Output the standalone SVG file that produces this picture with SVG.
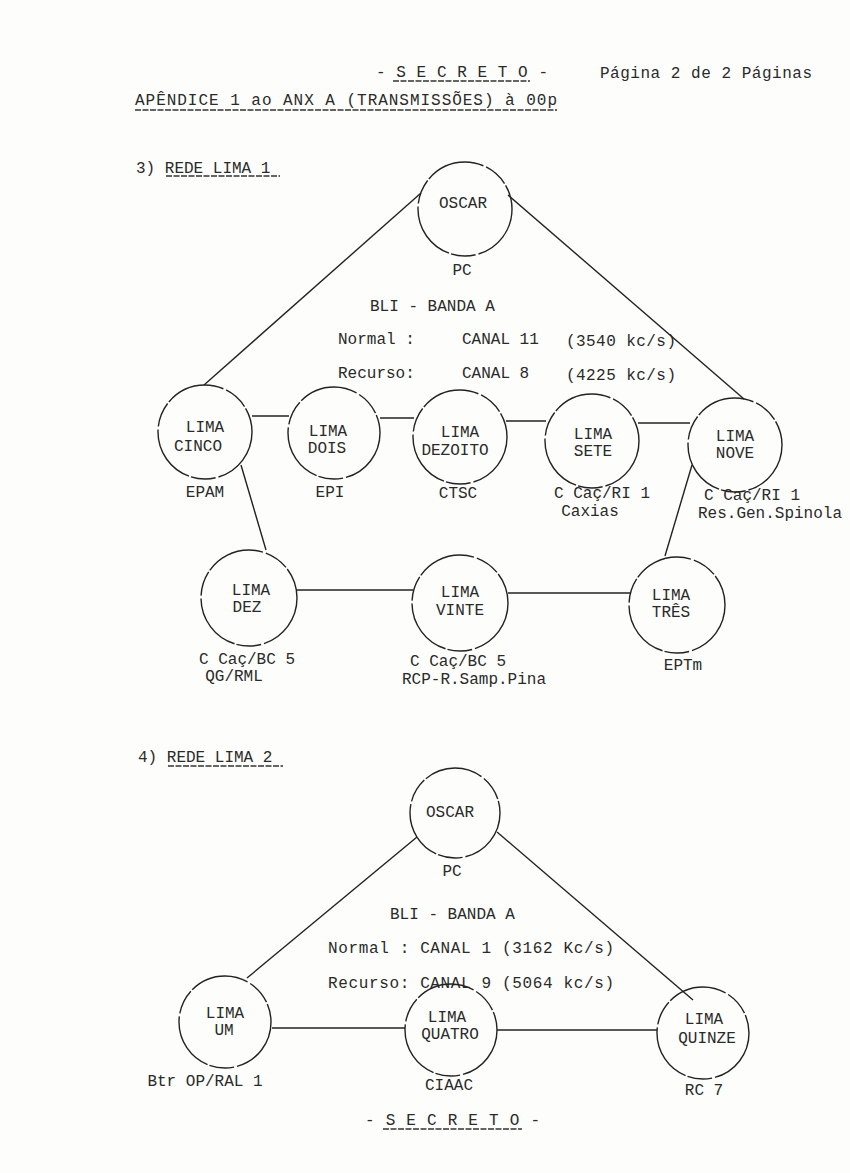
<svg xmlns="http://www.w3.org/2000/svg" width="850" height="1173" viewBox="0 0 850 1173">
<style>
text{font-family:"Liberation Mono","DejaVu Sans Mono",monospace;font-size:16px;fill:#2a2a2a}
.c{text-anchor:middle}
.n{fill:none;stroke:#222;stroke-width:1.4;stroke-dasharray:60 3 25 2}
.l{stroke:#222;stroke-width:1.4;fill:none}
.u{stroke:#333;stroke-width:1.3;stroke-dasharray:6 1.5}
</style>
<rect width="850" height="1173" fill="#fdfdfb"/>
<g id="header">
<text x="376" y="77" textLength="172">- S E C R E T O -</text>
<line class="u" x1="393" y1="81" x2="530" y2="81"/>
<text x="600" y="78" textLength="212">Página 2 de 2 Páginas</text>
<text x="135" y="105" textLength="422">APÊNDICE 1 ao ANX A (TRANSMISSÕES) à 00p</text>
<line class="u" x1="135" y1="110" x2="557" y2="110"/>
</g>
<g id="title1">
<text x="136" y="173">3) REDE LIMA 1</text>
<line class="u" x1="166" y1="176" x2="280" y2="176"/>
</g>
<g id="connectors1">
<line class="l" x1="421" y1="193" x2="204" y2="385"/>
<line class="l" x1="508" y1="195" x2="744" y2="399"/>
<line class="l" x1="252" y1="416" x2="289" y2="416"/>
<line class="l" x1="380" y1="418" x2="414" y2="418"/>
<line class="l" x1="506" y1="421" x2="546" y2="421"/>
<line class="l" x1="638" y1="423" x2="690" y2="423"/>
<line class="l" x1="241" y1="465" x2="266" y2="550"/>
<line class="l" x1="692" y1="465" x2="665" y2="556"/>
<line class="l" x1="297" y1="590" x2="413" y2="590"/>
<line class="l" x1="508" y1="593" x2="631" y2="593"/>
</g>
<g id="oscar1"><circle class="n" cx="465" cy="209" r="47"/><text class="c" x="463" y="208">OSCAR</text><text class="c" x="462" y="275">PC</text></g>
<g id="info1">
<text x="370" y="311">BLI - BANDA A</text>
<text x="338" y="344">Normal :</text><text x="462" y="344">CANAL 11</text><text x="566" y="346" textLength="110">(3540 kc/s)</text>
<text x="338" y="378">Recurso:</text><text x="462" y="378">CANAL  8</text><text x="566" y="380" textLength="110">(4225 kc/s)</text>
</g>
<g id="lima-cinco"><circle class="n" cx="205" cy="432" r="47"/><text class="c" x="205" y="432">LIMA</text><text class="c" x="198" y="451">CINCO</text><text class="c" x="205" y="497">EPAM</text></g>
<g id="lima-dois"><circle class="n" cx="334" cy="433" r="46"/><text class="c" x="328" y="436">LIMA</text><text class="c" x="327" y="453">DOIS</text><text class="c" x="330" y="497">EPI</text></g>
<g id="lima-dezoito"><circle class="n" cx="460" cy="437" r="47"/><text class="c" x="460" y="437">LIMA</text><text class="c" x="455" y="455">DEZOITO</text><text class="c" x="458" y="498">CTSC</text></g>
<g id="lima-sete"><circle class="n" cx="592" cy="441" r="47"/><text class="c" x="593" y="439">LIMA</text><text class="c" x="593" y="456">SETE</text><text class="c" x="602" y="498">C Caç/RI 1</text><text class="c" x="590" y="516">Caxias</text></g>
<g id="lima-nove"><circle class="n" cx="735" cy="445" r="47"/><text class="c" x="735" y="441">LIMA</text><text class="c" x="735" y="458">NOVE</text><text class="c" x="752" y="500">C Caç/RI 1</text><text class="c" x="770" y="518">Res.Gen.Spinola</text></g>
<g id="lima-dez"><circle class="n" cx="249" cy="598" r="48"/><text class="c" x="251" y="595">LIMA</text><text class="c" x="247" y="612">DEZ</text><text class="c" x="247" y="664">C Caç/BC 5</text><text class="c" x="234" y="681">QG/RML</text></g>
<g id="lima-vinte"><circle class="n" cx="460" cy="603" r="48"/><text class="c" x="460" y="597">LIMA</text><text class="c" x="460" y="615">VINTE</text><text class="c" x="458" y="666">C Caç/BC 5</text><text class="c" x="474" y="684">RCP-R.Samp.Pina</text></g>
<g id="lima-tres"><circle class="n" cx="677" cy="605" r="48"/><text class="c" x="671" y="600">LIMA</text><text class="c" x="671" y="617">TRÊS</text><text class="c" x="683" y="670">EPTm</text></g>
<g id="title2">
<text x="138" y="762">4) REDE LIMA 2</text>
<line class="u" x1="168" y1="766" x2="283" y2="766"/>
</g>
<g id="connectors2">
<line class="l" x1="417" y1="837" x2="247" y2="978"/>
<line class="l" x1="497" y1="832" x2="693" y2="1000"/>
<line class="l" x1="272" y1="1028" x2="405" y2="1028"/>
<line class="l" x1="497" y1="1030" x2="657" y2="1030"/>
</g>
<g id="oscar2"><circle class="n" cx="455" cy="813" r="45"/><text class="c" x="450" y="817">OSCAR</text><text class="c" x="452" y="876">PC</text></g>
<g id="info2">
<text x="390" y="919">BLI - BANDA A</text>
<text x="328" y="953" textLength="286">Normal : CANAL 1 (3162 Kc/s)</text>
<text x="328" y="988" textLength="286">Recurso: CANAL 9 (5064 kc/s)</text>
</g>
<g id="lima-um"><circle class="n" cx="225" cy="1022" r="46"/><text class="c" x="225" y="1018">LIMA</text><text class="c" x="224" y="1035">UM</text><text class="c" x="205" y="1086">Btr OP/RAL 1</text></g>
<g id="lima-quatro"><circle class="n" cx="451" cy="1030" r="46"/><text class="c" x="447" y="1022">LIMA</text><text class="c" x="450" y="1039">QUATRO</text><text class="c" x="449" y="1090">CIAAC</text></g>
<g id="lima-quinze"><circle class="n" cx="703" cy="1033" r="46"/><text class="c" x="704" y="1024">LIMA</text><text class="c" x="707" y="1043">QUINZE</text><text class="c" x="704" y="1095">RC 7</text></g>
<g id="footer">
<text x="365" y="1125" textLength="175">- S E C R E T O -</text>
<line class="u" x1="383" y1="1129" x2="522" y2="1129"/>
</g>
</svg>
